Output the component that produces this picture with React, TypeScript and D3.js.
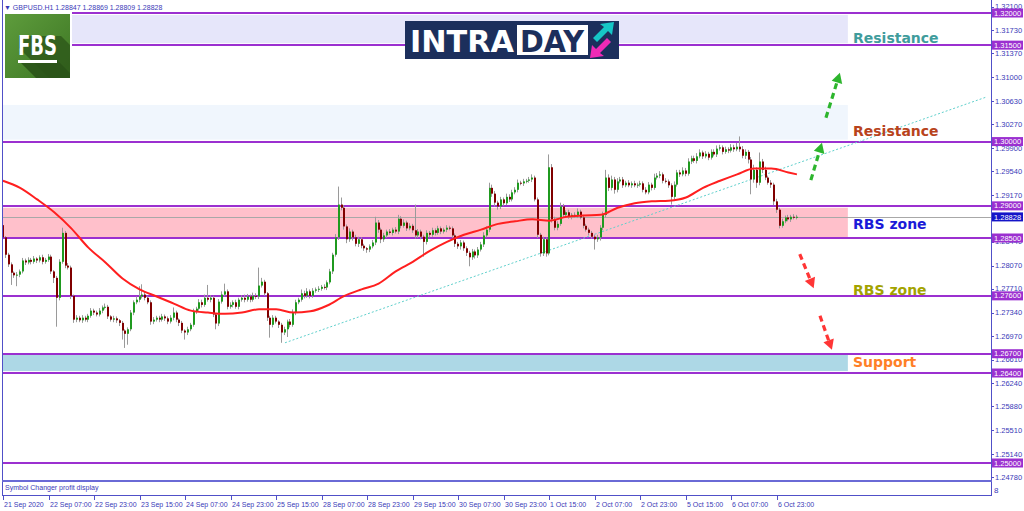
import React from 'react';
import * as d3 from 'd3';

const SYMBOL = 'GBPUSD.H1';
const HEADER_VALUES = ['1.28847', '1.28869', '1.28809', '1.28828'];
const PIP = 0.0001;
const FIRST_OPEN = 1.287;

const closes = [
  1.2851, 1.2824, 1.2809, 1.2796, 1.2792, 1.2793, 1.2798, 1.2815, 1.2812, 1.2816,
  1.2813, 1.2818, 1.2815, 1.282, 1.2813, 1.2816, 1.2821, 1.2798, 1.2788, 1.2757,
  1.2813, 1.2858, 1.2807, 1.2804, 1.276, 1.2723, 1.2726, 1.2722, 1.2726, 1.2723,
  1.2729, 1.2737, 1.2734, 1.2731, 1.2737, 1.2742, 1.2743, 1.2728, 1.2723, 1.2725,
  1.2722, 1.2718, 1.2706, 1.2701, 1.2708, 1.2734, 1.275, 1.2754, 1.2759, 1.2762,
  1.2757, 1.275, 1.272, 1.2723, 1.2726, 1.2723, 1.2728, 1.2725, 1.272, 1.2726,
  1.2734, 1.2723, 1.2718, 1.2706, 1.2703, 1.2708, 1.2715, 1.2736, 1.274, 1.275,
  1.2746, 1.2757, 1.2754, 1.2757, 1.2731, 1.2717, 1.2751, 1.2762, 1.2767, 1.2743,
  1.2746, 1.275, 1.2743, 1.2754, 1.2757, 1.2754, 1.2759, 1.2754, 1.276, 1.2759,
  1.2776, 1.2782, 1.2764, 1.2726, 1.2715, 1.2726, 1.272, 1.2715, 1.2703, 1.2708,
  1.272, 1.2715, 1.2734, 1.275, 1.2754, 1.2764, 1.276, 1.2767, 1.276, 1.2768,
  1.277, 1.2771, 1.2774, 1.2773, 1.2781, 1.2798, 1.2824, 1.2851, 1.2902, 1.2897,
  1.2868, 1.2848, 1.286, 1.2851, 1.2841, 1.2848, 1.2838, 1.2834, 1.2832, 1.2837,
  1.2843, 1.2874, 1.2863, 1.2848, 1.2854, 1.286, 1.2858, 1.2863, 1.286, 1.288,
  1.2869, 1.2874, 1.2865, 1.2869, 1.2862, 1.2854, 1.286, 1.2852, 1.2844, 1.2858,
  1.2855, 1.2862, 1.2858, 1.2865, 1.286, 1.2863, 1.2866, 1.2865, 1.2854, 1.2841,
  1.2837, 1.2843, 1.2834, 1.2827, 1.282, 1.2829, 1.2823, 1.2832, 1.284, 1.2854,
  1.2863, 1.2928, 1.2919, 1.2905, 1.2899, 1.291, 1.2904, 1.2914, 1.291, 1.2921,
  1.2925, 1.2936, 1.2935, 1.2938, 1.2939, 1.2941, 1.2944, 1.291, 1.2855, 1.2826,
  1.2848, 1.2826, 1.296, 1.2879, 1.2866, 1.2872, 1.2899, 1.2886, 1.289, 1.2883,
  1.2886, 1.2885, 1.2891, 1.2882, 1.2869, 1.2863, 1.2858, 1.2852, 1.2848, 1.2851,
  1.2866, 1.2886, 1.2944, 1.2928, 1.2941, 1.2925, 1.2938, 1.2941, 1.2932, 1.2936,
  1.2932, 1.2935, 1.2932, 1.2933, 1.2935, 1.2925, 1.2921, 1.2933, 1.2928, 1.2944,
  1.2947, 1.2949, 1.2939, 1.2938, 1.2932, 1.2914, 1.2933, 1.2952, 1.2949, 1.2955,
  1.295, 1.2969, 1.2974, 1.297, 1.2977, 1.2983, 1.2977, 1.2981, 1.2975, 1.2984,
  1.298, 1.2989, 1.2991, 1.2984, 1.2988, 1.2986, 1.2991, 1.2988, 1.2992, 1.2988,
  1.2978, 1.2984, 1.2972, 1.2941, 1.2956, 1.2936, 1.2969, 1.2956, 1.2944, 1.2936,
  1.2933, 1.2907, 1.2894, 1.2869, 1.2876, 1.2882, 1.2879, 1.2883, 1.2882, 1.2883,
];

const upWick = [
  5, 2, 3, 3, 2, 4, 3, 4, 3, 4,
  3, 4, 2, 3, 4, 3, 4, 3, 2, 3,
  4, 8, 3, 4, 3, 2, 4, 3, 4, 3,
  3, 4, 3, 3, 4, 3, 5, 3, 2, 4,
  3, 2, 3, 2, 3, 4, 3, 5, 16, 16,
  4, 3, 3, 4, 3, 3, 4, 3, 3, 4,
  8, 3, 2, 3, 2, 4, 3, 4, 3, 5,
  4, 5, 20, 4, 3, 2, 4, 5, 12, 3,
  4, 3, 4, 3, 4, 5, 4, 3, 5, 4,
  28, 6, 3, 2, 3, 4, 3, 2, 3, 4,
  3, 4, 5, 4, 3, 6, 4, 5, 3, 4,
  3, 4, 3, 4, 3, 4, 3, 5, 28, 11,
  4, 3, 5, 3, 4, 4, 3, 3, 2, 3,
  4, 9, 4, 3, 4, 3, 4, 3, 4, 6,
  4, 5, 3, 4, 3, 40, 4, 3, 3, 4,
  3, 4, 3, 4, 3, 3, 4, 3, 3, 3,
  3, 4, 3, 3, 3, 4, 3, 4, 4, 5,
  5, 8, 5, 4, 3, 4, 3, 5, 4, 4,
  4, 5, 3, 4, 3, 4, 5, 3, 3, 3,
  4, 3, 20, 5, 4, 4, 6, 4, 3, 4,
  3, 4, 5, 3, 4, 3, 3, 3, 3, 4,
  4, 5, 12, 5, 6, 4, 5, 4, 4, 3,
  4, 3, 4, 3, 4, 3, 4, 4, 3, 6,
  4, 5, 3, 4, 3, 3, 5, 4, 4, 5,
  4, 5, 4, 4, 5, 5, 3, 4, 3, 4,
  4, 5, 4, 3, 4, 3, 5, 4, 6, 16,
  5, 4, 3, 4, 8, 4, 14, 4, 5, 3,
  4, 3, 4, 3, 4, 3, 4, 3, 4, 3,
];

const dnWick = [
  3, 5, 4, 19, 4, 17, 4, 3, 4, 3,
  4, 3, 4, 3, 4, 3, 3, 4, 8, 45,
  4, 3, 4, 3, 5, 5, 4, 3, 4, 3,
  4, 3, 4, 3, 3, 4, 3, 4, 3, 4,
  4, 5, 14, 22, 17, 3, 4, 3, 4, 3,
  4, 3, 5, 4, 3, 4, 3, 4, 4, 3,
  4, 4, 5, 4, 11, 4, 3, 3, 4, 3,
  4, 3, 3, 4, 4, 9, 4, 3, 3, 4,
  3, 4, 3, 4, 3, 4, 3, 4, 3, 4,
  4, 3, 4, 5, 20, 4, 3, 5, 16, 4,
  12, 4, 3, 4, 3, 3, 4, 3, 4, 3,
  3, 4, 3, 3, 4, 3, 4, 3, 4, 4,
  5, 6, 4, 5, 4, 5, 4, 4, 5, 4,
  3, 4, 5, 6, 4, 4, 3, 4, 3, 4,
  4, 3, 4, 3, 4, 5, 4, 4, 23, 4,
  4, 3, 4, 3, 4, 3, 4, 3, 4, 5,
  4, 5, 4, 5, 14, 4, 5, 4, 3, 4,
  3, 4, 5, 6, 5, 4, 4, 3, 4, 3,
  3, 4, 3, 4, 3, 3, 4, 3, 5, 5,
  4, 5, 3, 5, 4, 4, 3, 4, 4, 3,
  4, 3, 4, 3, 4, 3, 4, 3, 16, 4,
  5, 4, 4, 5, 4, 6, 4, 3, 4, 3,
  3, 4, 3, 4, 3, 4, 3, 3, 4, 3,
  3, 4, 4, 3, 4, 12, 4, 3, 4, 3,
  4, 3, 4, 3, 4, 3, 4, 3, 4, 3,
  3, 4, 3, 4, 3, 4, 3, 4, 3, 4,
  4, 5, 6, 23, 5, 8, 4, 5, 4, 3,
  5, 6, 5, 4, 3, 3, 3, 4, 3, 3,
];

const maBars = [
  0, 6, 12, 18, 24, 30, 36, 42, 48, 54, 60, 66, 72, 78, 84, 90, 96, 102, 108, 114,
  120, 126, 132, 138, 144, 150, 156, 162, 168, 174, 180, 186, 192, 198, 204, 210,
  216, 222, 228, 234, 240, 246, 252, 258, 264, 270, 276, 279,
];
const maValues = [
  1.2939, 1.2928, 1.291, 1.289, 1.2865, 1.2835, 1.2812, 1.2787, 1.277, 1.2759,
  1.2748, 1.2737, 1.2734, 1.2732, 1.2734, 1.2739, 1.2739, 1.2734, 1.2736, 1.2745,
  1.276, 1.277, 1.2779, 1.2798, 1.2813, 1.283, 1.2844, 1.2855, 1.2863, 1.2872,
  1.2876, 1.2879, 1.2877, 1.2883, 1.2885, 1.2886, 1.2897, 1.2904, 1.2907, 1.2908,
  1.2913, 1.2928, 1.2939, 1.2949, 1.2958, 1.2958, 1.2952, 1.2949,
];

const timeLabels = [
  '21 Sep 2020', '22 Sep 07:00', '22 Sep 23:00', '23 Sep 15:00', '24 Sep 07:00',
  '24 Sep 23:00', '25 Sep 15:00', '28 Sep 07:00', '28 Sep 23:00', '29 Sep 15:00',
  '30 Sep 07:00', '30 Sep 23:00', '1 Oct 15:00', '2 Oct 07:00', '2 Oct 23:00',
  '5 Oct 15:00', '6 Oct 07:00', '6 Oct 23:00',
];
const timeLabelBars = [0, 16, 32, 48, 64, 80, 96, 112, 128, 144, 160, 176, 192, 208, 224, 240, 256, 272];

// 1.28800 is fully hidden behind the current-price box in the reference, so it is not listed
const priceTicks = [
  1.321, 1.3173, 1.3137, 1.31, 1.3063, 1.3027, 1.299, 1.2954, 1.2917, 1.2844,
  1.2807, 1.2771, 1.2734, 1.2697, 1.2661, 1.2624, 1.2588, 1.2551, 1.2514, 1.2478,
];
const levels = [1.32, 1.315, 1.3, 1.29, 1.285, 1.276, 1.267, 1.264, 1.25];
const lastPrice = 1.28828;

const zoneLow = [1.3153, 1.3003, 1.2851, 1.2643];
const zoneHigh = [1.3197, 1.3057, 1.2897, 1.2668];
const zoneEndBar = 296.9;

const zoneLabels = ['Resistance', 'Resistance', 'RBS zone', 'RBS zone', 'Support'];
const zoneLabelPrices = [1.3161, 1.3016, 1.2872, 1.2769, 1.2657];
const zoneLabelBar = 298.7;

const trendBars = [99.1, 345.4];
const trendPrices = [1.2687, 1.3069];

const arrowFromBar = [283.9, 289.2, 280.0, 287.1];
const arrowFromPrice = [1.294, 1.3037, 1.2825, 1.2729];
const arrowToBar = [287.8, 294.1, 284.9, 291.3];
const arrowToPrice = [1.2998, 1.3107, 1.2772, 1.2676];
const arrowKind = ['up', 'up', 'down', 'down'];

// ---------- styles / layout ----------
const W = 1024;
const H = 511;
const PLOT_L = 2;
const PLOT_R = 991;
const PLOT_B = 480;
const AXIS_COLOR = '#5050c8';
const TEXT_COLOR = '#3a3ab8';
const LEVEL_COLOR = '#9b30d0';
const ZONE_FILLS = ['#e6e6fa', '#f0f6fd', '#ffc0cb', '#add8e6'];
const LABEL_COLORS = ['#3f9c9c', '#b8431c', '#1a1ad8', '#a3a300', '#ff7f27'];
const BULL = '#1f9a1f';
const BEAR = '#800000';
const WICK = '#9a9a9a';
const FONT = 'Liberation Sans, Arial, sans-serif';

export default function App() {
  const x = d3.scaleLinear().domain([0, 272]).range([3, 777]);
  const y = d3.scaleLinear().domain([1.25, 1.32]).range([463, 13]);

  const candles = closes.map((c, i) => {
    const o = i === 0 ? FIRST_OPEN : closes[i - 1];
    const hi = Math.max(o, c) + upWick[i] * PIP;
    const lo = Math.min(o, c) - dnWick[i] * PIP;
    return { i, o, c, hi, lo };
  });

  const maLine = d3
    .line<number>()
    .x((_, k) => x(maBars[k]))
    .y((v) => y(v))
    .curve(d3.curveMonotoneX)(maValues) as string;

  const arrows = arrowKind.map((kind, k) => {
    const x1 = x(arrowFromBar[k]);
    const y1 = y(arrowFromPrice[k]);
    const x2 = x(arrowToBar[k]);
    const y2 = y(arrowToPrice[k]);
    const ang = Math.atan2(y2 - y1, x2 - x1);
    const len = 10;
    const wid = 5.5;
    const bx = x2 - len * Math.cos(ang);
    const by = y2 - len * Math.sin(ang);
    const px = -Math.sin(ang) * wid;
    const py = Math.cos(ang) * wid;
    const color = kind === 'up' ? '#2db52d' : '#ff3535';
    return (
      <g key={'ar' + k}>
        <line x1={x1} y1={y1} x2={bx} y2={by} stroke={color} strokeWidth={3.2} strokeDasharray="6,4" />
        <polygon points={`${x2},${y2} ${bx + px},${by + py} ${bx - px},${by - py}`} fill={color} />
      </g>
    );
  });

  const fmt = (v: number) => v.toFixed(5);

  return (
    <svg
      width={W}
      height={H}
      viewBox={`0 0 ${W} ${H}`}
      style={{ position: 'absolute', left: 0, top: 0, background: '#fff', display: 'block' }}
    >
      <rect x={0} y={0} width={W} height={H} fill="#fff" />
      <defs>
        <linearGradient id="fbsg" x1="0" y1="0" x2="1" y2="1">
          <stop offset="0" stopColor="#5e9c3c" />
          <stop offset="1" stopColor="#3d7624" />
        </linearGradient>
        <clipPath id="plotclip">
          <rect x={PLOT_L} y={0} width={PLOT_R - PLOT_L} height={PLOT_B} />
        </clipPath>
      </defs>

      <g clipPath="url(#plotclip)">
        {zoneLow.map((lo, k) => (
          <rect
            key={'z' + k}
            x={PLOT_L}
            y={y(zoneHigh[k])}
            width={x(zoneEndBar) - PLOT_L}
            height={y(lo) - y(zoneHigh[k])}
            fill={ZONE_FILLS[k]}
          />
        ))}
        <line x1={PLOT_L} x2={PLOT_R} y1={Math.round(y(lastPrice)) + 0.5} y2={Math.round(y(lastPrice)) + 0.5} stroke="#a8a8a8" strokeWidth={1} />
        {levels.map((lv, k) => (
          <line key={'lv' + k} x1={PLOT_L} x2={PLOT_R} y1={Math.round(y(lv))} y2={Math.round(y(lv))} stroke={LEVEL_COLOR} strokeWidth={2} />
        ))}
        <line
          x1={x(trendBars[0])}
          y1={y(trendPrices[0])}
          x2={x(trendBars[1])}
          y2={y(trendPrices[1])}
          stroke="#5fd0cc"
          strokeWidth={1}
          strokeDasharray="2,2"
        />
        {candles.map((d) => {
          const cx = Math.round(x(d.i));
          const top = Math.min(y(d.o), y(d.c));
          const h = Math.max(1, Math.abs(y(d.o) - y(d.c)));
          const bull = d.c >= d.o;
          return (
            <g key={'c' + d.i}>
              <line x1={cx - 0.5} x2={cx - 0.5} y1={y(d.hi)} y2={y(d.lo)} stroke={WICK} strokeWidth={1} />
              <rect x={cx - 1} y={top} width={2} height={h} fill={bull ? BULL : BEAR} />
            </g>
          );
        })}
        <path d={maLine} fill="none" stroke="#ff1f1f" strokeWidth={2} />
        {arrows}
        {zoneLabels.map((t, k) => (
          <text
            key={'zl' + k}
            x={x(zoneLabelBar)}
            y={y(zoneLabelPrices[k])}
            dy="0.36em"
            fill={LABEL_COLORS[k]}
            fontFamily="DejaVu Sans, sans-serif"
            fontWeight="bold"
            fontSize={14}
          >
            {t}
          </text>
        ))}
      </g>

      <text x={4} y={9.5} fontFamily={FONT} fontSize={7} fill={TEXT_COLOR}>
        {'▼ ' + SYMBOL + '  ' + HEADER_VALUES.join(' ')}
      </text>

      <rect x={3} y={11} width={69} height={69} fill="#fff" />
      <g transform="translate(5,14)">
        <rect x={0} y={0} width={65} height={64} fill="url(#fbsg)" />
        <polygon points="14,22 56,22 65,31 65,64 44,64 14,34" fill="#2f5a1b" opacity={0.85} />
        <polygon points="13,46 52,46 65,59 65,64 31,64" fill="#2a5318" opacity={0.9} />
        <text
          x={13}
          y={41}
          fontFamily="DejaVu Sans, sans-serif"
          fontWeight="bold"
          fontSize={27}
          fill="#fff"
          textLength={39}
          lengthAdjust="spacingAndGlyphs"
        >
          FBS
        </text>
        <rect x={13} y={46} width={39} height={3} fill="#fff" />
      </g>

      <g>
        <rect x={405} y={21} width={214} height={38} fill="#1c2f5c" />
        <text
          x={410}
          y={52}
          fontFamily="DejaVu Sans, sans-serif"
          fontWeight="bold"
          fontSize={31}
          fill="#fff"
          textLength={104}
          lengthAdjust="spacingAndGlyphs"
        >
          INTRA
        </text>
        <rect x={517} y={25} width={71} height={30} fill="#fff" />
        <text
          x={520}
          y={52}
          fontFamily="DejaVu Sans, sans-serif"
          fontWeight="bold"
          fontSize={31}
          fill="#1c2f5c"
          textLength={64}
          lengthAdjust="spacingAndGlyphs"
        >
          DAY
        </text>
        <polygon points="593,38 604,27 600,24 614,22 612,35 608,31 597,42" fill="#16c6c6" />
        <polygon points="611,42 600,53 604,56 590,58 592,45 596,49 607,38" fill="#f02ab6" />
      </g>

      <line x1={PLOT_R + 0.5} x2={PLOT_R + 0.5} y1={0} y2={496} stroke={AXIS_COLOR} strokeWidth={1} />
      {priceTicks.map((p, k) => (
        <g key={'pt' + k}>
          <line x1={PLOT_R} x2={PLOT_R + 3} y1={Math.round(y(p)) + 0.5} y2={Math.round(y(p)) + 0.5} stroke={AXIS_COLOR} />
          <text x={PLOT_R + 4} y={y(p)} dy="0.35em" fontFamily={FONT} fontSize={7.5} fill={TEXT_COLOR}>
            {fmt(p)}
          </text>
        </g>
      ))}
      {levels.map((lv, k) => (
        <g key={'lb' + k}>
          <rect x={PLOT_R + 1} y={y(lv) - 4.5} width={31} height={9} fill={LEVEL_COLOR} />
          <text x={PLOT_R + 3} y={y(lv)} dy="0.35em" fontFamily={FONT} fontSize={7.5} fill="#fff">
            {fmt(lv)}
          </text>
        </g>
      ))}
      <rect x={PLOT_R + 1} y={y(lastPrice) - 4.5} width={31} height={9} fill="#1414c8" />
      <text x={PLOT_R + 3} y={y(lastPrice)} dy="0.35em" fontFamily={FONT} fontSize={7.5} fill="#fff">
        {fmt(lastPrice)}
      </text>

      <line x1={2.5} x2={2.5} y1={0} y2={496} stroke={AXIS_COLOR} strokeWidth={1} />

      <line x1={2} x2={PLOT_R + 1} y1={481} y2={481} stroke="#6a6ad6" strokeWidth={2} />
      <text x={5} y={490} fontFamily={FONT} fontSize={7} fill={TEXT_COLOR}>
        Symbol Changer profit display
      </text>
      <line x1={2} x2={PLOT_R + 1} y1={495.5} y2={495.5} stroke={AXIS_COLOR} strokeWidth={1} />
      <text x={PLOT_R + 3} y={493} fontFamily={FONT} fontSize={8} fill={TEXT_COLOR}>
        8
      </text>

      {timeLabels.map((t, k) => {
        const tx = Math.round(x(timeLabelBars[k])) + 0.5;
        return (
          <g key={'tl' + k}>
            <line x1={tx} x2={tx} y1={496} y2={500} stroke={AXIS_COLOR} />
            <text x={tx + 0.5} y={507} fontFamily={FONT} fontSize={7} fill={TEXT_COLOR}>
              {t}
            </text>
          </g>
        );
      })}
    </svg>
  );
}
